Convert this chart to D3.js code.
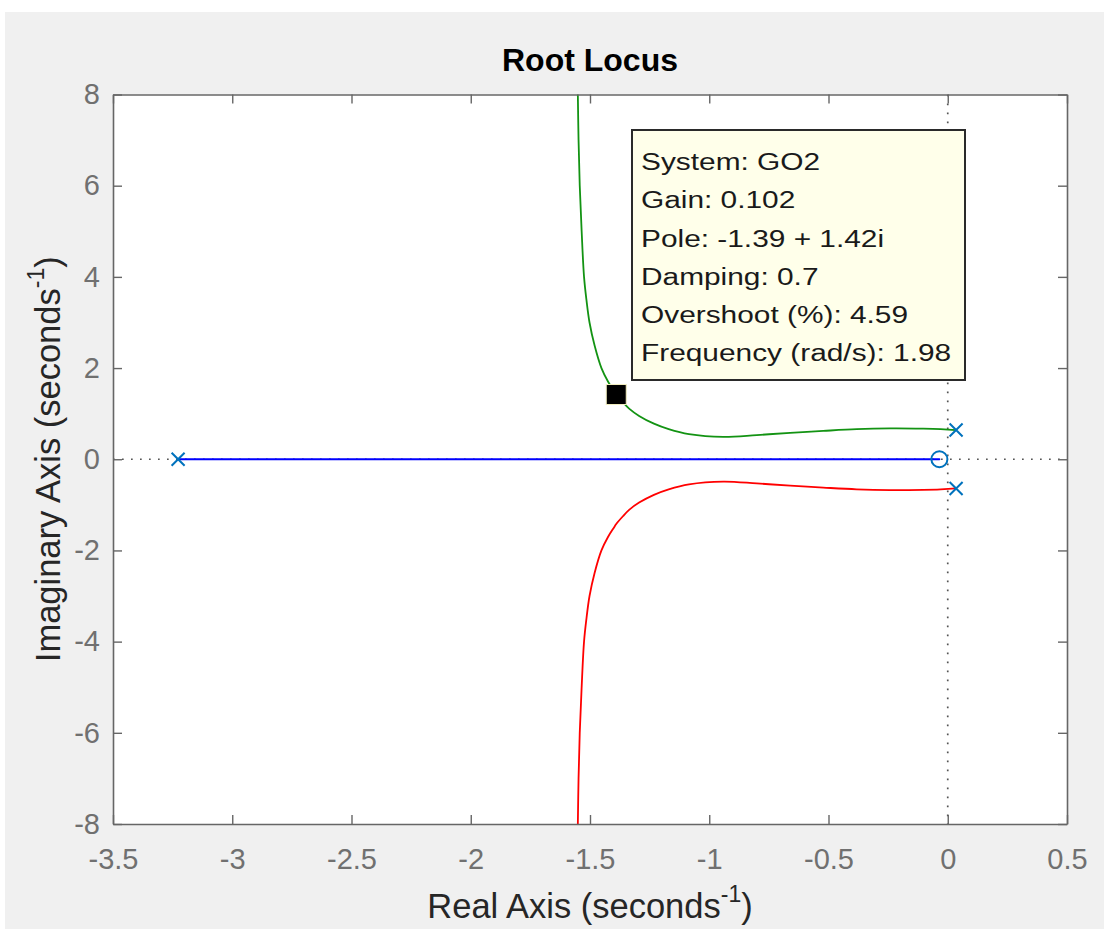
<!DOCTYPE html>
<html>
<head>
<meta charset="utf-8">
<script src="https://cdn.jsdelivr.net/npm/d3@7"></script>
<style>
  html, body { margin: 0; padding: 0; background: #ffffff; }
  svg { display: block; }
  text { font-family: "Liberation Sans", Arial, Helvetica, sans-serif; }
</style>
</head>
<body>
<svg id="chart" width="1104" height="929"></svg>
<script>
// ---------- data ----------
const xTicks = [-3.5, -3, -2.5, -2, -1.5, -1, -0.5, 0, 0.5];
const yTicks = [-8, -6, -4, -2, 0, 2, 4, 6, 8];
const xTickLabels = ["-3.5", "-3", "-2.5", "-2", "-1.5", "-1", "-0.5", "0", "0.5"];
const yTickLabels = ["-8", "-6", "-4", "-2", "0", "2", "4", "6", "8"];

const poleRe = [-3.227, 0.035, 0.035];
const poleIm = [0, 0.64, -0.64];
const zeroRe = [-0.035];
const zeroIm = [0];

// blue branch (real axis)
const blueRe = [-3.227, -0.035];
const blueIm = [0, 0];

// green branch (upper)
const greenRe = [-1.551, -1.548, -1.543, -1.535, -1.525, -1.515, -1.502, -1.481, -1.452, -1.424, -1.400, -1.390, -1.362, -1.336, -1.294, -1.232, -1.170, -1.085, -0.941, -0.801, -0.661, -0.522, -0.382, -0.242, -0.103, -0.030, 0.035];
const greenIm = [8.00, 7.00, 6.00, 5.00, 4.00, 3.50, 3.00, 2.50, 2.00, 1.70, 1.50, 1.42, 1.25, 1.11, 0.95, 0.78, 0.66, 0.55, 0.49, 0.53, 0.58, 0.622, 0.659, 0.675, 0.67, 0.66, 0.64];

// red branch (lower)
const redRe = [-1.551, -1.548, -1.543, -1.535, -1.525, -1.515, -1.502, -1.481, -1.452, -1.424, -1.400, -1.390, -1.362, -1.336, -1.294, -1.232, -1.170, -1.085, -0.941, -0.801, -0.661, -0.522, -0.382, -0.242, -0.103, -0.030, 0.035];
const redIm = [-8.00, -7.00, -6.00, -5.00, -4.00, -3.50, -3.00, -2.50, -2.00, -1.70, -1.50, -1.42, -1.25, -1.11, -0.95, -0.78, -0.66, -0.55, -0.49, -0.53, -0.58, -0.622, -0.659, -0.675, -0.67, -0.66, -0.64];

// selected data-tip point
const tipRe = [-1.39];
const tipIm = [1.42];
const tipLines = ["System: GO2", "Gain: 0.102", "Pole: -1.39 + 1.42i", "Damping: 0.7", "Overshoot (%): 4.59", "Frequency (rad/s): 1.98"];

const titleText = "Root Locus";

// ---------- layout ----------
const W = 1104, H = 929;
const L = 113, R = 1067, T = 94.5, B = 824;

const svg = d3.select("#chart");

// figure background
svg.append("rect").attr("x", 5).attr("y", 12).attr("width", W - 5).attr("height", H - 12).attr("fill", "#f0f0f0");
// axes background
svg.append("rect").attr("x", L).attr("y", T).attr("width", R - L).attr("height", B - T).attr("fill", "#ffffff");

const x = d3.scaleLinear().domain([-3.5, 0.5]).range([L, R]);
const y = d3.scaleLinear().domain([-8, 8]).range([B, T]);

svg.append("defs").append("clipPath").attr("id", "clip")
  .append("rect").attr("x", L).attr("y", T).attr("width", R - L).attr("height", B - T);

const plot = svg.append("g").attr("clip-path", "url(#clip)");

// dotted zero lines
plot.append("line").attr("x1", L).attr("x2", R).attr("y1", y(0)).attr("y2", y(0))
  .attr("stroke", "#555").attr("stroke-width", 1.7).attr("stroke-dasharray", "1.7,7.3");
plot.append("line").attr("x1", x(0)).attr("x2", x(0)).attr("y1", T).attr("y2", B)
  .attr("stroke", "#555").attr("stroke-width", 1.7).attr("stroke-dasharray", "1.7,7.3");

const line = d3.line().x(d => x(d[0])).y(d => y(d[1])).curve(d3.curveCatmullRom.alpha(0.5));

function branch(re, im, color, w) {
  plot.append("path").datum(re.map((v, i) => [v, im[i]]))
    .attr("d", line).attr("fill", "none").attr("stroke", color).attr("stroke-width", w)
    .attr("stroke-linejoin", "round").attr("stroke-linecap", "round");
}
branch(blueRe, blueIm, "#0000ff", 2);
branch(greenRe, greenIm, "#139313", 1.8);
branch(redRe, redIm, "#ff0000", 1.8);

// pole markers (x)
const mk = 6.5;
poleRe.forEach((re, i) => {
  const cx = x(re), cy = y(poleIm[i]);
  plot.append("path")
    .attr("d", `M${cx - mk},${cy - mk}L${cx + mk},${cy + mk}M${cx - mk},${cy + mk}L${cx + mk},${cy - mk}`)
    .attr("stroke", "#0072bd").attr("stroke-width", 2).attr("fill", "none");
});
// zero marker (o)
zeroRe.forEach((re, i) => {
  plot.append("circle").attr("cx", x(re)).attr("cy", y(zeroIm[i])).attr("r", 8)
    .attr("fill", "none").attr("stroke", "#0072bd").attr("stroke-width", 2);
});

// axes
const axColor = "#666666";
const gB = svg.append("g").attr("transform", `translate(0,${B})`)
  .call(d3.axisBottom(x).tickValues(xTicks).tickFormat((d, i) => xTickLabels[i]).tickSizeInner(-9).tickSizeOuter(0).tickPadding(24));
const gT = svg.append("g").attr("transform", `translate(0,${T})`)
  .call(d3.axisTop(x).tickValues(xTicks).tickFormat("").tickSizeInner(-9).tickSizeOuter(0));
const gL = svg.append("g").attr("transform", `translate(${L},0)`)
  .call(d3.axisLeft(y).tickValues(yTicks).tickFormat((d, i) => yTickLabels[i]).tickSizeInner(-9).tickSizeOuter(0).tickPadding(13));
const gR = svg.append("g").attr("transform", `translate(${R},0)`)
  .call(d3.axisRight(y).tickValues(yTicks).tickFormat("").tickSizeInner(-9).tickSizeOuter(0));

[gB, gT, gL, gR].forEach(g => {
  g.select(".domain").attr("stroke", axColor).attr("stroke-width", 1.6);
  g.selectAll(".tick line").attr("stroke", axColor).attr("stroke-width", 1.4);
  g.selectAll(".tick text").attr("fill", "#707070").attr("font-size", 29)
    .attr("font-family", "'Liberation Sans', Arial, sans-serif");
});

// data-tip marker
tipRe.forEach((re, i) => {
  svg.append("rect").attr("x", x(re) - 10).attr("y", y(tipIm[i]) - 10).attr("width", 20).attr("height", 20)
    .attr("fill", "#000000").attr("stroke", "#f2eec0").attr("stroke-width", 1);
});

// data-tip box
const bx = 632, by = 130, bw = 333, bh = 250;
svg.append("rect").attr("x", bx).attr("y", by).attr("width", bw).attr("height", bh)
  .attr("fill", "#ffffea").attr("stroke", "#2a2a2a").attr("stroke-width", 2);
const tipG = svg.append("g").attr("transform", `translate(641,0) scale(1.27,1)`);
tipLines.forEach((t, i) => {
  tipG.append("text").attr("x", 0).attr("y", 170 + i * 38.3).attr("font-size", 23.5)
    .attr("fill", "#1a1a1a").text(t);
});

// title
svg.append("text").attr("x", (L + R) / 2).attr("y", 71).attr("text-anchor", "middle")
  .attr("font-size", 32).attr("font-weight", "bold").attr("fill", "#000").text(titleText);

// x label
const xl = svg.append("text").attr("x", (L + R) / 2).attr("y", 918).attr("text-anchor", "middle")
  .attr("font-size", 34.5).attr("fill", "#262626");
xl.append("tspan").text("Real Axis (seconds");
xl.append("tspan").attr("dy", -16).attr("font-size", 23).text("-1");
xl.append("tspan").attr("dy", 16).text(")");

// y label
const yl = svg.append("text").attr("transform", `translate(60,${(T + B) / 2}) rotate(-90)`)
  .attr("text-anchor", "middle").attr("font-size", 34.5).attr("fill", "#262626");
yl.append("tspan").text("Imaginary Axis (seconds");
yl.append("tspan").attr("dy", -16).attr("font-size", 23).text("-1");
yl.append("tspan").attr("dy", 16).text(")");
</script>
</body>
</html>
